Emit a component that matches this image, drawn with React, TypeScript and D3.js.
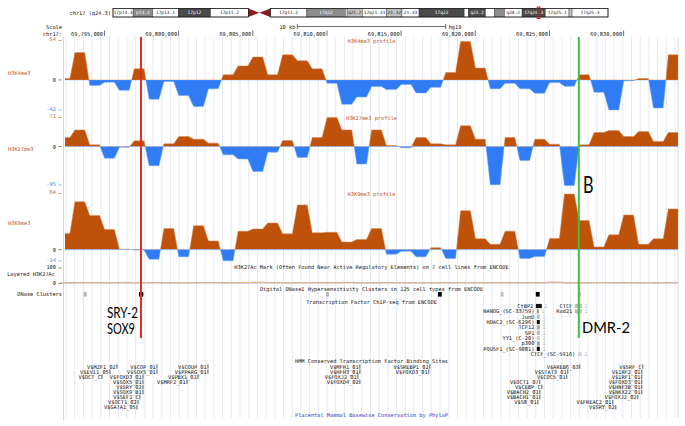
import React from "react";
import * as d3 from "d3";

// ---------- window / bins ----------
const WIN_START = 69792340;
const WIN_END = 69833666;
const BIN_START = 69792340;
const BIN_SIZE = 1000;
const BIN_HALF = 330;

// ---------- profile values (one per 1 kb bin) ----------
const h3k4me3 = [2, 37, -7.5, -3, -14, 15, -26, -2, -21, -36, -12, 7, 19, 31, 7, 34, 26, 15, -4.5, -33, -23, -9, -13, -6, -17.5, -10, 10, 52, 16, -12, -4.5, -12, -18, -3.6, -8.5, 7, -16.7, -40.5, -1, 2, -38, 34];
const h3k27me3 = [21.6, 40, 4, -28, -1.6, 13.6, -46, 6.4, 24, 17.6, 8, -20, -30, -60, -13.6, 14.4, -26.4, 21.6, 70, 40, -42, 40, 2.4, -3, 21.6, 6.4, 4, 50, 17.6, -92, 21.6, -33.6, 17.6, 5.6, -94, 4, 33.6, 38.4, 24, 36, 12, 33.6];
const h3k9me3 = [18.2, 54, 38.7, 22.7, 0.4, -0.4, -10.8, 23.8, -8.2, 27, 9.7, -12.6, 20.8, 23.4, 30, 17.8, 50.5, 19, 19.7, 8.5, 11.5, 23.8, -5.2, -1.9, -8.2, 2.2, -10, 44, 12.3, 6, 20.8, -10, -7.8, 12.6, 62.8, 33, 3, 16.7, 39, 6, 12.3, 46];

// layered H3K27Ac (very low signal)
const k27acLayerA = [2, 3, 1, 2, 4, 3, 2, 1, 2, 3, 2, 1, 3, 5, 2, 1, 2, 3, 2, 4, 2, 1, 2, 3, 2, 1, 2, 3, 4, 2, 1, 2, 3, 6, 2, 1, 2, 3, 2, 1, 2, 3];
const k27acLayerB = [1, 2, 3, 1, 2, 1, 3, 2, 1, 2, 3, 2, 1, 2, 3, 1, 2, 1, 2, 3, 1, 2, 3, 1, 2, 1, 3, 2, 1, 2, 3, 2, 1, 4, 1, 2, 3, 1, 2, 2, 1, 2];
const k27acLayerC = [1, 1, 2, 1, 1, 2, 1, 1, 2, 1, 1, 1, 2, 4, 1, 1, 2, 1, 1, 1, 2, 1, 1, 1, 2, 1, 1, 2, 1, 1, 2, 1, 1, 5, 1, 1, 2, 1, 1, 2, 1, 1];
const k27acColors = ["#f08a8a", "#9a8af0", "#e8d860"];

// ---------- ruler ----------
const rulerTicks = [69795000, 69800000, 69805000, 69810000, 69815000, 69820000, 69825000, 69830000];

// ---------- ideogram (hg19 chr17 cytobands) ----------
const CHR_LEN = 81195210;
const bandNames = ["p13.3", "p13.2", "p13.1", "p12", "p11.2", "p11.1", "q11.1", "q11.2", "q12", "q21.1", "q21.2", "q21.31", "q21.32", "q21.33", "q22", "q23.1", "q23.2", "q23.3", "q24.1", "q24.2", "q24.3", "q25.1", "q25.2", "q25.3"];
const bandStarts = [0, 3300000, 6500000, 10700000, 16000000, 22200000, 24000000, 25800000, 31800000, 38100000, 38400000, 40900000, 44900000, 47400000, 50200000, 57600000, 58300000, 61100000, 62600000, 64200000, 67100000, 70900000, 74800000, 75300000];
const bandEnds = [3300000, 6500000, 10700000, 16000000, 22200000, 24000000, 25800000, 31800000, 38100000, 38400000, 40900000, 44900000, 47400000, 50200000, 57600000, 58300000, 61100000, 62600000, 64200000, 67100000, 70900000, 74800000, 75300000, 81195210];
const bandStains = ["gneg", "gpos50", "gneg", "gpos75", "gneg", "acen", "acen", "gneg", "gpos50", "gneg", "gpos25", "gneg", "gpos25", "gneg", "gpos75", "gneg", "gpos75", "gneg", "gpos50", "gneg", "gpos75", "gneg", "gpos25", "gneg"];

// ---------- DNase clusters ----------
const dnaseStarts = [69793600, 69797330, 69809930, 69817480, 69821720, 69824080, 69826960];
const dnaseEnds = [69793800, 69797620, 69810130, 69817740, 69821900, 69824340, 69827140];
const dnaseScores = [250, 1000, 250, 1000, 220, 1000, 200];

// ---------- TF ChIP-seq ----------
const tfNames = ["CtBP2", "NANOG_(SC-33759)", "JunD", "HDAC2_(SC-6296)", "TCF12", "SP1", "YY1_(C-20)", "p300", "POU5F1_(SC-9081)", "CTCF", "Rad21", "CTCF_(SC-5916)"];
const tfStarts = [69824081, 69824149, 69824149, 69824149, 69824149, 69824149, 69824149, 69824149, 69824149, 69826709, 69826709, 69826911];
const tfEnds = [69824485, 69824280, 69824350, 69824350, 69824350, 69824350, 69824350, 69824350, 69824350, 69827181, 69827181, 69827181];
const tfScores = [920, 380, 220, 920, 300, 230, 150, 320, 1000, 220, 220, 120];
const tfRows = [0, 1, 2, 3, 4, 5, 6, 7, 8, 0, 1, 9];

// ---------- HMM conserved TFBS ----------
const tfbsNames = [
  "V$MZF1_02", "V$EVI1_05", "V$OCT_C", "V$COP_01", "V$SOX5_01", "V$FOXD3_01", "V$SOX5_01", "V$SRY_02", "V$SOX9_B1", "V$SEF1_C", "V$OCT1_02", "V$GATA1_05",
  "V$COUP_01", "V$PPARG_01", "V$PBX1_01", "V$MRF2_01",
  "V$MFH1_01", "V$HFH3_01", "V$FOXJ2_01", "V$FOXD4_02", "V$SREBP1_02", "V$FOXD3_01",
  "V$AREB6_03", "V$STAT3_01", "V$CDC5_01", "V$OCT1_07", "V$CEBP_C", "V$BACH2_01", "V$BACH1_01", "V$S8_01",
  "V$SRF_C", "V$IRF2_01", "V$IRF1_01", "V$FOXD3_01", "V$HNF3B_01", "V$NKX22_01", "V$FOXJ2_02", "V$FREAC2_01", "V$SRY_02"
];
const tfbsPos = [
  69795844, 69795373, 69794833, 69798540, 69798540, 69797596, 69797596, 69797596, 69797596, 69797394, 69797259, 69797192,
  69801977, 69801977, 69801303, 69800562,
  69812220, 69812220, 69812085, 69812220, 69816937, 69816870,
  69827046, 69826237, 69826170, 69824350, 69824485, 69824350, 69824350, 69824216,
  69831291, 69831224, 69831224, 69831224, 69831224, 69831224, 69830955, 69829270, 69829472
];
const tfbsRows = [
  0, 1, 2, 0, 1, 2, 3, 4, 5, 6, 7, 8,
  0, 1, 2, 3,
  0, 1, 2, 3, 0, 1,
  0, 1, 2, 3, 4, 5, 6, 7,
  0, 1, 2, 3, 4, 5, 6, 7, 8
];

// ---------- highlighted regions ----------
const markerPos = [69797462, 69826978];
const markerColors = ["#e8291c", "#3cc43c"];

// ---------- styling ----------
const W = 685;
const H = 426;
const DATA_L = 65;
const DATA_R = 678;
const POS = "#bf520b";
const NEG = "#2f7cf5";
const ORANGE_TXT = "#c0561a";
const BLUE_TXT = "#3a7cf0";
const MONO = "'DejaVu Sans Mono', monospace";
const FS = 5.3;
const CHAR_W = FS * 0.602;
const BIG = "Lato, 'Open Sans', sans-serif";

type Pt = [number, number];

function Profile(props: { id: string; values: number[]; min: number; max: number; top: number; bottom: number; x: d3.ScaleLinear<number, number> }) {
  const { id, values, min, max, top, bottom, x } = props;
  const y = d3.scaleLinear().domain([min, max]).range([bottom, top]);
  const pts: Pt[] = [];
  values.forEach((v, k) => {
    const c = BIN_START + k * BIN_SIZE;
    pts.push([c - BIN_HALF, v], [c + BIN_HALF, v]);
  });
  const z = y(0);
  const area = d3.area<Pt>().x((d) => x(d[0])).y0(z).y1((d) => y(d[1]));
  const d = area(pts) || "";
  return (
    <g>
      <defs>
        <clipPath id={id + "p"}>
          <rect x={DATA_L} y={top - 3} width={DATA_R - DATA_L} height={z - top + 3} />
        </clipPath>
        <clipPath id={id + "n"}>
          <rect x={DATA_L} y={z} width={DATA_R - DATA_L} height={bottom - z + 3} />
        </clipPath>
      </defs>
      <path d={d} fill={POS} stroke="#d9854f" strokeWidth={0.5} clipPath={`url(#${id}p)`} />
      <path d={d} fill={NEG} stroke="#6fa3f7" strokeWidth={0.5} clipPath={`url(#${id}n)`} />
    </g>
  );
}

function T(props: { x: number; y: number; children: React.ReactNode; anchor?: string; fill?: string; size?: number; family?: string }) {
  return (
    <text
      x={props.x}
      y={props.y}
      textAnchor={props.anchor || "start"}
      dominantBaseline="central"
      fill={props.fill || "#111"}
      fontSize={props.size || FS}
      fontFamily={props.family || MONO}
    >
      {props.children}
    </text>
  );
}

export default function App() {
  const x = d3.scaleLinear().domain([WIN_START, WIN_END]).range([DATA_L, DATA_R]);
  const xi = d3.scaleLinear().domain([0, CHR_LEN]).range([113, 608]);
  const shade = d3.scaleLinear<string>().domain([0, 1000]).range(["#f2f2f2", "#000000"]);
  const stainFill: Record<string, string> = { gneg: "#ffffff", gpos25: "#c4c4c4", gpos50: "#8c8c8c", gpos75: "#4a4a4a", gpos100: "#000000" };

  const tracks = [
    { id: "k4", name: "H3K4me3", values: h3k4me3, min: -42, max: 54, top: 40, bottom: 111, labelY: 73 },
    { id: "k27", name: "H3K27me3", values: h3k27me3, min: -95, max: 71, top: 117, bottom: 186, labelY: 149 },
    { id: "k9", name: "H3K9me3", values: h3k9me3, min: -14, max: 64, top: 193, bottom: 262, labelY: 223 },
  ];

  // guidelines
  const guides: number[] = [];
  for (let gx = DATA_L + 1; gx < DATA_R; gx += 8.7) guides.push(gx);

  const center = (WIN_START + WIN_END) / 2;
  const sbL = x(center - 5000);
  const sbR = x(center + 5000);

  const ideoY = 8.5;
  const ideoH = 8.5;

  // layered H3K27Ac scale
  const yAc = d3.scaleLinear().domain([0, 100]).range([283, 267]);
  const acLine = d3.line<Pt>().x((d) => x(d[0])).y((d) => yAc(d[1]));
  const layerPts = (vals: number[]) => {
    const p: Pt[] = [];
    vals.forEach((v, k) => {
      const c = BIN_START + k * BIN_SIZE;
      p.push([c - BIN_HALF, v], [c + BIN_HALF, v]);
    });
    return p;
  };

  const tfRowY = (r: number) => 306 + r * 5.35;
  const tfbsRowY = (r: number) => 366.5 + r * 5.1;

  return (
    <svg width={W} height={H} viewBox={`0 0 ${W} ${H}`} style={{ position: "absolute", left: 0, top: 0, display: "block", background: "#fff" }}>
      <rect x={0} y={0} width={W} height={H} fill="#fff" />

      {/* ideogram */}
      <T x={111} y={13} anchor="end">chr17 (q24.3)</T>
      {bandNames.map((n, i) => {
        const x0 = xi(bandStarts[i]);
        const x1 = xi(bandEnds[i]);
        const st = bandStains[i];
        if (st === "acen") {
          const pts = n.startsWith("p")
            ? `${x0},${ideoY} ${x1},${ideoY + ideoH / 2} ${x0},${ideoY + ideoH}`
            : `${x1},${ideoY} ${x0},${ideoY + ideoH / 2} ${x1},${ideoY + ideoH}`;
          return <polygon key={i} points={pts} fill="#8e1b22" />;
        }
        const bw = x1 - x0;
        const cands = ["17" + n, n, n.slice(1)];
        const lab = cands.find((c) => c.length * CHAR_W * 0.85 + 1 <= bw);
        const dark = st === "gpos75" || st === "gpos50" || st === "gpos100";
        return (
          <g key={i}>
            <rect x={x0} y={ideoY} width={bw} height={ideoH} fill={stainFill[st]} stroke="#222" strokeWidth={0.4} />
            {lab && (
              <T x={(x0 + x1) / 2} y={ideoY + ideoH / 2 + 0.2} anchor="middle" size={FS * 0.85} fill={dark ? "#fff" : "#222"}>
                {lab}
              </T>
            )}
          </g>
        );
      })}
      <rect x={xi(bandStarts[0])} y={ideoY} width={xi(bandEnds[4]) - xi(bandStarts[0])} height={ideoH} fill="none" stroke="#111" strokeWidth={0.7} />
      <rect x={xi(bandStarts[7])} y={ideoY} width={xi(CHR_LEN) - xi(bandStarts[7])} height={ideoH} fill="none" stroke="#111" strokeWidth={0.7} />
      <rect x={xi(WIN_START) - 1.2} y={ideoY - 1.5} width={2.6} height={ideoH + 3} fill="none" stroke="#e01010" strokeWidth={1} />

      {/* guidelines */}
      {guides.map((gx, i) => (
        <line key={i} x1={gx} x2={gx} y1={37} y2={418} stroke="#dadff0" strokeWidth={0.7} />
      ))}
      <line x1={63.5} x2={63.5} y1={37} y2={420} stroke="#f3c6d6" strokeWidth={1} />
      <line x1={DATA_R} x2={DATA_R} y1={37} y2={418} stroke="#d0d0d6" strokeWidth={0.8} />

      {/* scale bar */}
      <T x={62} y={26.5} anchor="end">Scale</T>
      <T x={sbL - 2} y={26.5} anchor="end">10 kb</T>
      <line x1={sbL} x2={sbR} y1={26.5} y2={26.5} stroke="#111" strokeWidth={0.6} />
      <line x1={sbL} x2={sbL} y1={24} y2={29} stroke="#111" strokeWidth={0.6} />
      <line x1={sbR} x2={sbR} y1={24} y2={29} stroke="#111" strokeWidth={0.6} />
      <T x={sbR + 3} y={26.5}>hg19</T>

      {/* ruler */}
      <T x={62} y={33.5} anchor="end">chr17:</T>
      {rulerTicks.map((t) => (
        <g key={t}>
          <line x1={x(t)} x2={x(t)} y1={30.5} y2={36} stroke="#111" strokeWidth={0.6} />
          <T x={x(t) - 1.5} y={33.5} anchor="end">{d3.format(",")(t)}</T>
        </g>
      ))}

      {/* profile tracks */}
      {tracks.map((tr) => {
        const y = d3.scaleLinear().domain([tr.min, tr.max]).range([tr.bottom, tr.top]);
        const z = y(0);
        return (
          <g key={tr.id}>
            <Profile id={tr.id} values={tr.values} min={tr.min} max={tr.max} top={tr.top} bottom={tr.bottom} x={x} />
            <T x={(DATA_L + DATA_R) / 2} y={tr.top + 1} anchor="middle" fill={ORANGE_TXT}>{tr.name + " profile"}</T>
            <T x={8} y={tr.labelY} fill={ORANGE_TXT}>{tr.name}</T>
            <T x={56} y={tr.top - 1} anchor="end" fill={ORANGE_TXT}>{String(tr.max)}</T>
            <line x1={58.5} x2={61.5} y1={tr.top + 0.5} y2={tr.top + 0.5} stroke={ORANGE_TXT} strokeWidth={0.6} />
            <T x={56} y={z} anchor="end">0</T>
            <line x1={58.5} x2={61.5} y1={z} y2={z} stroke="#333" strokeWidth={0.6} />
            <T x={56} y={tr.bottom - 2.5} anchor="end" fill={BLUE_TXT}>{String(tr.min)}</T>
            <line x1={58.5} x2={61.5} y1={tr.bottom - 1} y2={tr.bottom - 1} stroke={BLUE_TXT} strokeWidth={0.6} />
          </g>
        );
      })}

      {/* layered H3K27Ac */}
      <T x={(DATA_L + DATA_R) / 2} y={266.5} anchor="middle">H3K27Ac Mark (Often Found Near Active Regulatory Elements) on 7 cell lines from ENCODE</T>
      <T x={55} y={274} anchor="end">Layered H3K27Ac</T>
      <T x={56} y={267} anchor="end">100</T>
      <line x1={58.5} x2={61.5} y1={268} y2={268} stroke="#333" strokeWidth={0.6} />
      <T x={56} y={282.5} anchor="end">0</T>
      <line x1={58.5} x2={61.5} y1={283.5} y2={283.5} stroke="#333" strokeWidth={0.6} />
      <line x1={DATA_L} x2={DATA_R} y1={283} y2={283} stroke="#b8a8c8" strokeWidth={0.6} />
      {[k27acLayerA, k27acLayerB, k27acLayerC].map((vals, i) => (
        <path key={i} d={acLine(layerPts(vals)) || ""} fill="none" stroke={k27acColors[i]} strokeWidth={0.9} opacity={0.75} />
      ))}

      {/* DNase clusters */}
      <T x={(DATA_L + DATA_R) / 2} y={289} anchor="middle">Digital DNaseI Hypersensitivity Clusters in 125 cell types from ENCODE</T>
      <T x={62} y={294} anchor="end">DNase Clusters</T>
      {dnaseStarts.map((s, i) => (
        <rect key={i} x={x(s)} y={292} width={Math.max(2, x(dnaseEnds[i]) - x(s))} height={4.6} fill={shade(dnaseScores[i])} />
      ))}

      {/* TF ChIP-seq */}
      <T x={(DATA_L + DATA_R) / 2} y={301.5} anchor="middle">Transcription Factor ChIP-seq from ENCODE</T>
      {tfNames.map((n, i) => {
        const yy = tfRowY(tfRows[i]);
        const x0 = x(tfStarts[i]);
        const x1 = x(tfEnds[i]);
        return (
          <g key={i}>
            <T x={x0 - 2.5} y={yy} anchor="end">{n}</T>
            <rect x={x0} y={yy - 2.1} width={Math.max(1.5, x1 - x0)} height={4.2} fill={shade(tfScores[i])} />
            <T x={x1 + 2.5} y={yy} fill="#b8b8b8">1</T>
          </g>
        );
      })}

      {/* HMM TFBS */}
      <T x={(DATA_L + DATA_R) / 2} y={360.5} anchor="middle">HMM Conserved Transcription Factor Binding Sites</T>
      {tfbsNames.map((n, i) => {
        const yy = tfbsRowY(tfbsRows[i]);
        const px = x(tfbsPos[i]);
        return (
          <g key={i}>
            <T x={px - 1.2} y={yy} anchor="end">{n}</T>
            <line x1={px} x2={px} y1={yy - 2.2} y2={yy + 2.2} stroke="#111" strokeWidth={0.7} />
          </g>
        );
      })}

      {/* PhyloP */}
      <T x={(DATA_L + DATA_R) / 2} y={415} anchor="middle" fill="#3b3bc8">Placental Mammal Basewise Conservation by PhyloP</T>

      {/* highlight lines */}
      {markerPos.map((p, i) => (
        <line key={i} x1={x(p)} x2={x(p)} y1={37} y2={338} stroke={markerColors[i]} strokeWidth={2} />
      ))}

      {/* annotations */}
      <text x={583} y={193} fontFamily={BIG} fontSize={23} fill="#000" textLength={10.5} lengthAdjust="spacingAndGlyphs">B</text>
      <text x={107} y={317.5} fontFamily={BIG} fontSize={14.5} fill="#000" textLength={31} lengthAdjust="spacingAndGlyphs">SRY-2</text>
      <text x={107} y={334} fontFamily={BIG} fontSize={14.5} fill="#000" textLength={28} lengthAdjust="spacingAndGlyphs">SOX9</text>
      <text x={582} y={333} fontFamily={BIG} fontSize={14.5} fill="#000" textLength={48} lengthAdjust="spacingAndGlyphs">DMR-2</text>
    </svg>
  );
}
